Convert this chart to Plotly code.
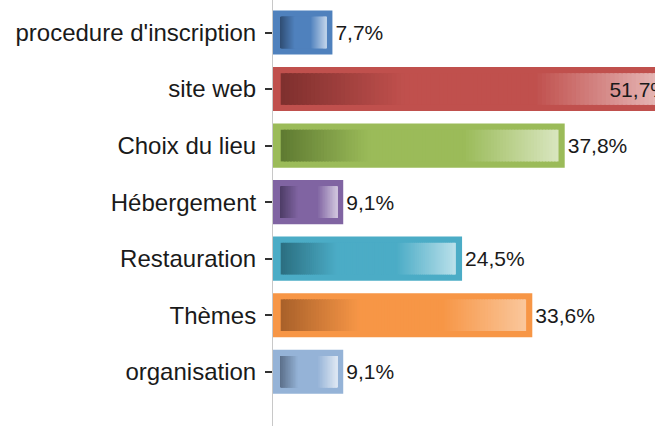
import plotly.graph_objects as go

categories = ["procedure d'inscription", "site web", "Choix du lieu", "Hébergement",
              "Restauration", "Thèmes", "organisation"]
values = [7.7, 51.7, 37.8, 9.1, 24.5, 33.6, 9.1]
base_colors = ["#4F81BD", "#C0504D", "#9BBB59", "#8064A2", "#4BACC6", "#F79646", "#95B3D7"]
dark_colors = ["#2F4D74", "#7E2F2D", "#5E7A31", "#4D3C66", "#2B6E80", "#A8602A", "#5B6F8A"]
light_colors = ["#BCD0E8", "#E8BDBC", "#D9E6C0", "#CEC3DC", "#BAE0EA", "#FAC79C", "#DCE6F2"]

X_MAX = 49.5
OUTER_W = 0.78
INNER_W = 0.56
INSET_L = 1.0
INSET_R = 0.8
N_SEG = 90
FONT = "Liberation Sans, Arial, sans-serif"


def hex2rgb(h):
    h = h.lstrip("#")
    return tuple(int(h[i:i + 2], 16) for i in (0, 2, 4))


def mix(c1, c2, t):
    a, b = hex2rgb(c1), hex2rgb(c2)
    return "rgb(%d,%d,%d)" % tuple(round(a[i] + (b[i] - a[i]) * t) for i in range(3))


def grad_color(i, t):
    if t < 0.32:
        return mix(dark_colors[i], base_colors[i], t / 0.32)
    if t < 0.66:
        return base_colors[i]
    return mix(base_colors[i], light_colors[i], (t - 0.66) / 0.34)


fig = go.Figure()

# outer frame bars
fig.add_trace(go.Bar(
    y=categories, x=values, orientation="h", width=OUTER_W,
    marker=dict(color=base_colors, line=dict(width=0)),
    hoverinfo="skip", showlegend=False,
))

# inner gradient, drawn as thin segments
for k in range(N_SEG):
    bases, lens, cols = [], [], []
    for i, v in enumerate(values):
        inner = max(v - INSET_L - INSET_R, 0)
        seg = inner / N_SEG
        bases.append(INSET_L + k * seg)
        lens.append(seg * 1.6 if k < N_SEG - 1 else seg)
        cols.append(grad_color(i, (k + 0.5) / N_SEG))
    fig.add_trace(go.Bar(
        y=categories, x=lens, base=bases, orientation="h", width=INNER_W,
        marker=dict(color=cols, line=dict(width=0)),
        hoverinfo="skip", showlegend=False,
    ))

# labels
labels = [("%.1f%%" % v).replace(".", ",") for v in values]
positions = ["inside" if v > X_MAX * 0.9 else "outside" for v in values]
lab_font = dict(family=FONT, size=21, color="#1a1a1a")
fig.add_trace(go.Bar(
    y=categories, x=values, orientation="h", width=OUTER_W,
    marker=dict(color="rgba(0,0,0,0)", line=dict(width=0)),
    text=labels, textposition=positions, insidetextanchor="end",
    constraintext="none",
    textfont=lab_font, insidetextfont=lab_font, outsidetextfont=lab_font,
    hoverinfo="skip", showlegend=False,
))

fig.update_layout(
    width=655, height=426,
    margin=dict(l=273, r=0, t=0, b=0),
    paper_bgcolor="white", plot_bgcolor="white",
    barmode="overlay",
    font=dict(family=FONT, color="#1a1a1a"),
    xaxis=dict(range=[0, X_MAX], showgrid=False, zeroline=False, showticklabels=False,
               showline=False, ticks=""),
    yaxis=dict(range=[6.96, -0.575], showgrid=False, zeroline=False,
               showline=True, linecolor="#C8C8C8", linewidth=1,
               ticks="outside", ticklen=7, tickcolor="#333333", tickwidth=1.5,
               tickfont=dict(size=24, color="#1a1a1a"), ticklabelstandoff=4),
)

fig.write_html("out.html", config={"displayModeBar": False},
               post_script="document.body.style.margin='0px';")
